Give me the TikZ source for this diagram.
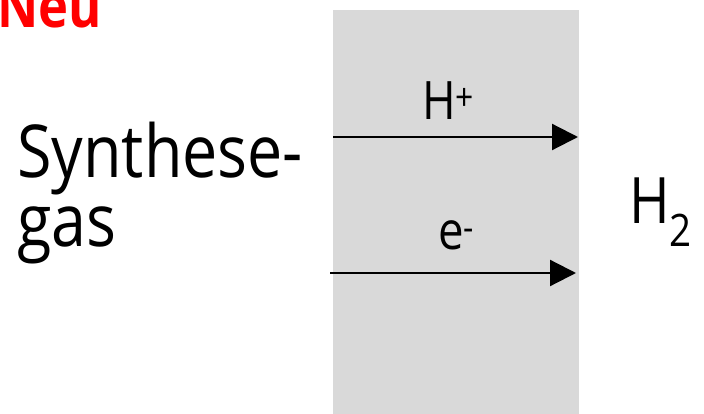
\documentclass[tikz,border=0pt]{standalone}
\usepackage{fontspec}
\setmainfont{Open Sans}[FakeStretch=0.86]
\usetikzlibrary{arrows.meta}
\definecolor{memgray}{RGB}{217,217,217}
\definecolor{neured}{RGB}{255,0,0}
\tikzset{
  flow/.style={line width=2.2pt,-{Triangle[length=26pt,width=26pt]}},
  lbl/.style={inner sep=0pt,anchor=base west},
}
\begin{document}
\begin{tikzpicture}[x=1pt,y=-1pt]
\useasboundingbox (0,0) rectangle (704,414);
\fill[memgray] (333,10) rectangle (579,414);
\node[lbl,text=neured,font=\fontsize{59}{64}\selectfont\bfseries] (neu) at (-3,28) {Neu};
\node[lbl,font=\fontsize{73}{80}\selectfont] (syn) at (17,178) {Synthese-};
\node[lbl,font=\fontsize{73}{80}\selectfont] (gas) at (17,246) {gas};
\coordinate (a1s) at (333,137);
\coordinate (a1e) at (578,137);
\coordinate (a2s) at (330,273);
\coordinate (a2e) at (576,273);
\draw[flow] (a1s) -- (a1e);
\draw[flow] (a2s) -- (a2e);
\node[lbl,font=\fontsize{53}{60}\selectfont] (hp) at (422,120) {H\textsuperscript{+}};
\node[lbl,font=\fontsize{53}{60}\selectfont] (em) at (438,250) {e\textsuperscript{-}};
\node[lbl,font=\fontsize{64}{70}\selectfont] (h2) at (629,223) {H\textsubscript{2}};
\end{tikzpicture}
\end{document}
